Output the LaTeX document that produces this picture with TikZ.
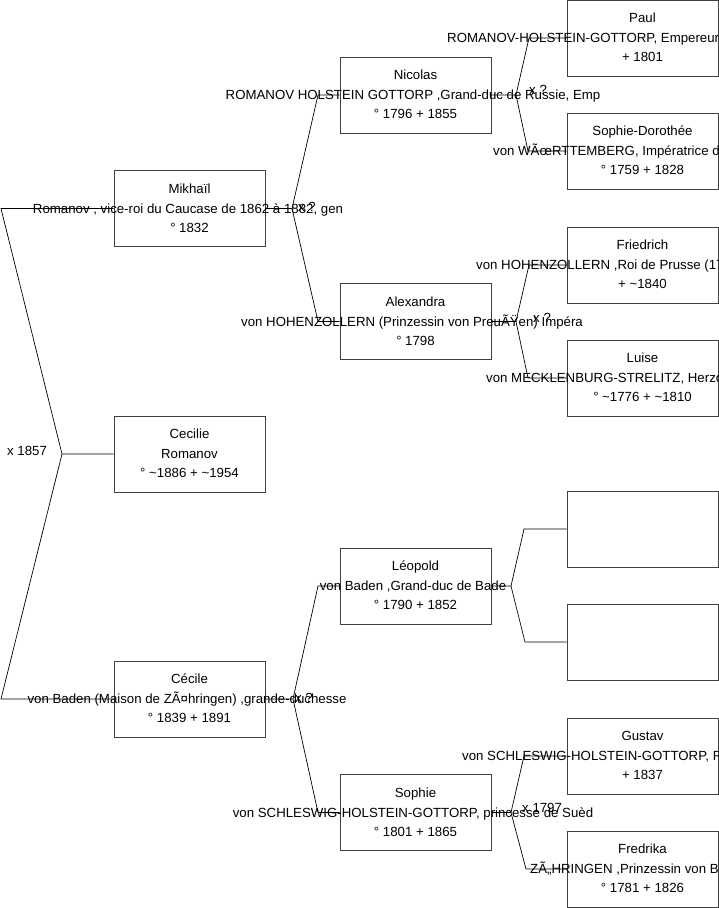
\documentclass[tikz,border=0pt]{standalone}
\usepackage{fontspec}
\setmainfont{Liberation Sans}
\begin{document}
\begin{tikzpicture}[x=1pt,y=-1pt,
  box/.style={draw=black!75, line width=0.9pt, fill=white, minimum width=151pt, minimum height=76pt, inner sep=0pt},
  txt/.style={font=\fontsize{13.25}{15}\selectfont, inner sep=0pt, anchor=base},
  wtxt/.style={txt, anchor=base west},
  link/.style={draw=black, line width=0.7pt},
  lbl/.style={txt, anchor=base west}]
\useasboundingbox (0,0) rectangle (719,908);
\fill[white] (0,0) rectangle (719,908);
% boxes
\node[box] (mik) at (189.5,208.5) {};
\node[box] (cce) at (189.5,454) {};
\node[box] (cec) at (189.5,699) {};
\node[box] (nic) at (415.5,95) {};
\node[box] (ale) at (415.5,321.5) {};
\node[box] (leo) at (415.5,586) {};
\node[box] (sop) at (415.5,812.5) {};
\node[box] (pau) at (642.5,38) {};
\node[box] (sdo) at (642.5,151) {};
\node[box] (fri) at (642.5,265) {};
\node[box] (lui) at (642.5,378) {};
\node[box] (ea) at (642.5,529) {};
\node[box] (eb) at (642.5,642) {};
\node[box] (gus) at (642.5,756) {};
\node[box] (fre) at (642.5,869) {};
% texts column 0
\node[txt, yshift=15.5pt] (mik1) at (189.5,208.5) {Mikhaïl};
\node[txt, yshift=-4.5pt] (mik2) at (188,208.5) {Romanov , vice-roi du Caucase de 1862 à 1882, gen};
\node[txt, yshift=-23.5pt] (mik3) at (189.5,208.5) {° 1832};
\node[txt, yshift=15.5pt] (cce1) at (189.5,454) {Cecilie};
\node[txt, yshift=-4.5pt] (cce2) at (189.5,454) {Romanov};
\node[txt, yshift=-23.5pt] (cce3) at (189.5,454) {° \textasciitilde1886 + \textasciitilde1954};
\node[txt, yshift=15.5pt] (cec1) at (189.5,699) {Cécile};
\node[txt, yshift=-4.5pt] (cec2) at (187,699) {von Baden (Maison de ZÃ¤hringen) ,grande-duchesse};
\node[txt, yshift=-23.5pt] (cec3) at (189.5,699) {° 1839 + 1891};
% column 1
\node[txt, yshift=15.5pt] (nic1) at (415.5,95) {Nicolas};
\node[txt, yshift=-4.5pt] (nic2) at (413,95) {ROMANOV HOLSTEIN GOTTORP ,Grand-duc de Russie, Emp};
\node[txt, yshift=-23.5pt] (nic3) at (415.5,95) {° 1796 + 1855};
\node[txt, yshift=15.5pt] (ale1) at (415.5,321.5) {Alexandra};
\node[txt, yshift=-4.5pt] (ale2) at (412,321.5) {von HOHENZOLLERN (Prinzessin von PreuÃŸen) Impéra};
\node[txt, yshift=-23.5pt] (ale3) at (415.5,321.5) {° 1798};
\node[txt, yshift=15.5pt] (leo1) at (415.5,586) {Léopold};
\node[txt, yshift=-4.5pt] (leo2) at (413,586) {von Baden ,Grand-duc de Bade};
\node[txt, yshift=-23.5pt] (leo3) at (415.5,586) {° 1790 + 1852};
\node[txt, yshift=15.5pt] (sop1) at (415.5,812.5) {Sophie};
\node[txt, yshift=-4.5pt] (sop2) at (413,812.5) {von SCHLESWIG-HOLSTEIN-GOTTORP, princesse de Suèd};
\node[txt, yshift=-23.5pt] (sop3) at (415.5,812.5) {° 1801 + 1865};
% column 2
\node[txt, yshift=15.5pt] (pau1) at (642.5,38) {Paul};
\node[wtxt, yshift=-4.5pt] (pau2) at (447,38) {ROMANOV-HOLSTEIN-GOTTORP, Empereur de Russie};
\node[txt, yshift=-23.5pt] (pau3) at (642.5,38) {+ 1801};
\node[txt, yshift=15.5pt] (sdo1) at (642.5,151) {Sophie-Dorothée};
\node[wtxt, yshift=-4.5pt] (sdo2) at (493,151) {von WÃœRTTEMBERG, Impératrice de Russie};
\node[txt, yshift=-23.5pt] (sdo3) at (642.5,151) {° 1759 + 1828};
\node[txt, yshift=15.5pt] (fri1) at (642.5,265) {Friedrich};
\node[wtxt, yshift=-4.5pt] (fri2) at (476,265) {von HOHENZOLLERN ,Roi de Prusse (1797)};
\node[txt, yshift=-23.5pt] (fri3) at (642.5,265) {+ \textasciitilde1840};
\node[txt, yshift=15.5pt] (lui1) at (642.5,378) {Luise};
\node[wtxt, yshift=-4.5pt] (lui2) at (486,378) {von MECKLENBURG-STRELITZ, Herzogin VON};
\node[txt, yshift=-23.5pt] (lui3) at (642.5,378) {° \textasciitilde1776 + \textasciitilde1810};
\node[txt, yshift=15.5pt] (gus1) at (642.5,756) {Gustav};
\node[wtxt, yshift=-4.5pt] (gus2) at (462,756) {von SCHLESWIG-HOLSTEIN-GOTTORP, Roi};
\node[txt, yshift=-23.5pt] (gus3) at (642.5,756) {+ 1837};
\node[txt, yshift=15.5pt] (fre1) at (642.5,869) {Fredrika};
\node[wtxt, yshift=-4.5pt] (fre2) at (530,869) {ZÃ„HRINGEN ,Prinzessin von Baden};
\node[txt, yshift=-23.5pt] (fre3) at (642.5,869) {° 1781 + 1826};
% fork coordinates
\coordinate (f0) at (62,454);
\coordinate (f0a) at (1,208.5);
\coordinate (f0b) at (1,699);
\coordinate (f1) at (292,208.5);
\coordinate (f1a) at (318,95);
\coordinate (f1b) at (318,321.5);
\coordinate (f2) at (293,699);
\coordinate (f2a) at (318,586);
\coordinate (f2b) at (318,812.5);
\coordinate (f3) at (516,95);
\coordinate (f3a) at (529,38);
\coordinate (f3b) at (528,151);
\coordinate (f4) at (516,321.5);
\coordinate (f4a) at (529,265);
\coordinate (f4b) at (528,378);
\coordinate (f5) at (511,586);
\coordinate (f5a) at (524,529);
\coordinate (f5b) at (525,642);
\coordinate (f6) at (511,812.5);
\coordinate (f6a) at (524,756);
\coordinate (f6b) at (526,869);
% connectors
\draw[link] (cce.west) -- (f0) -- (f0a) -- (mik.west);
\draw[link] (f0) -- (f0b) -- (cec.west);
\draw[link] (mik.east) -- (f1) -- (f1a) -- (nic.west);
\draw[link] (f1) -- (f1b) -- (ale.west);
\draw[link] (cec.east) -- (f2) -- (f2a) -- (leo.west);
\draw[link] (f2) -- (f2b) -- (sop.west);
\draw[link] (nic.east) -- (f3) -- (f3a) -- (pau.west);
\draw[link] (f3) -- (f3b) -- (sdo.west);
\draw[link] (ale.east) -- (f4) -- (f4a) -- (fri.west);
\draw[link] (f4) -- (f4b) -- (lui.west);
\draw[link] (leo.east) -- (f5) -- (f5a) -- (ea.west);
\draw[link] (f5) -- (f5b) -- (eb.west);
\draw[link] (sop.east) -- (f6) -- (f6a) -- (gus.west);
\draw[link] (f6) -- (f6b) -- (fre.west);
% marriage labels
\node[lbl] (m0) at (7,455.5) {x 1857};
\node[lbl] (m1) at (298,211) {x ?};
\node[lbl] (m2) at (295,702) {x ?};
\node[lbl] (m3) at (529,94) {x ?};
\node[lbl] (m4) at (533,322) {x ?};
\node[lbl] (m6) at (522,812) {x 1797};
\end{tikzpicture}
\end{document}
